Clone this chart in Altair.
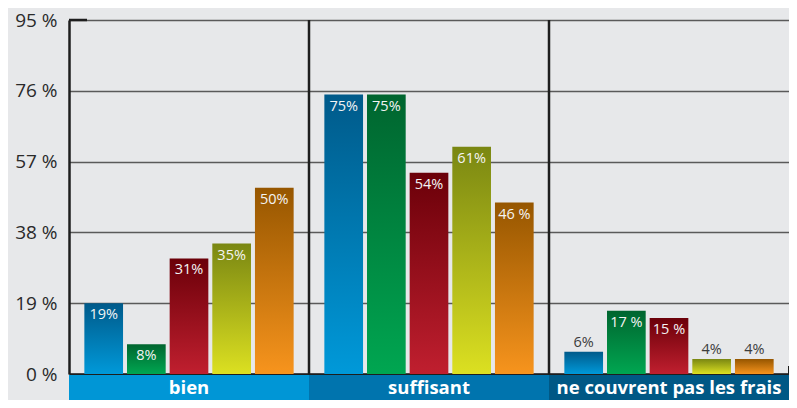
import altair as alt
import pandas as pd

groups = ["bien", "suffisant", "ne couvrent pas les frais"]
series = ["s1", "s2", "s3", "s4", "s5"]

vals_s1 = [19, 75, 6]
vals_s2 = [8, 75, 17]
vals_s3 = [31, 54, 15]
vals_s4 = [35, 61, 4]
vals_s5 = [50, 46, 4]

labs_s1 = ["19%", "75%", "6%"]
labs_s2 = ["8%", "75%", "17 %"]
labs_s3 = ["31%", "54%", "15 %"]
labs_s4 = ["35%", "61%", "4%"]
labs_s5 = ["50%", "46 %", "4%"]

tick_values = [0, 19, 38, 57, 76, 95]

top_colors = ["#005A8A", "#00652F", "#6B0009", "#7A8712", "#965600"]
bottom_colors = ["#0099D9", "#00A651", "#C01F2F", "#DCE021", "#F7941D"]
box_colors = ["#0096D6", "#0074AE", "#005885"]

all_vals = [vals_s1, vals_s2, vals_s3, vals_s4, vals_s5]
all_labs = [labs_s1, labs_s2, labs_s3, labs_s4, labs_s5]

rows = []
for s, vals, labs in zip(series, all_vals, all_labs):
    for g, v, l in zip(groups, vals, labs):
        rows.append({"group": g, "series": s, "value": v, "label": l})
df = pd.DataFrame(rows)

box_df = pd.DataFrame({"group": groups, "fill": box_colors})
div_df = pd.DataFrame({"group": groups[1:]})
dummy = pd.DataFrame({"a": [0]})

W, H = 720, 354
FONT = "Open Sans"

x_scale = alt.Scale(domain=groups, paddingInner=0, paddingOuter=0)
x_axis = alt.Axis(labels=False, ticks=False, title=None, domain=True,
                  domainColor="#1e1e1e", domainWidth=2.5, grid=False)
x_enc = alt.X("group:N", sort=groups, scale=x_scale, axis=x_axis)
xo = alt.XOffset("series:N", sort=series,
                 scale=alt.Scale(domain=series, paddingInner=0.093, paddingOuter=0.36))
y_enc = alt.Y("value:Q", scale=alt.Scale(domain=[0, 95], nice=False, zero=True),
              axis=alt.Axis(values=tick_values, labelExpr="datum.value + ' %'",
                            title=None, ticks=False, domainColor="#1e1e1e",
                            domainWidth=2.5, gridColor="#5a5a5a", gridWidth=1.3,
                            labelFont=FONT, labelFontSize=19, labelColor="#2a2a2a",
                            labelPadding=12, labelBound=False, labelFlush=False))

base = alt.Chart(df)
layers = []
for s, top, bot in zip(series, top_colors, bottom_colors):
    grad = alt.Gradient(
        gradient="linear", x1=0, x2=0, y1=0, y2=1,
        stops=[alt.GradientStop(color=top, offset=0),
               alt.GradientStop(color=bot, offset=1)])
    layers.append(
        base.transform_filter(alt.datum.series == s)
        .mark_bar(color=grad)
        .encode(x=x_enc, xOffset=xo, y=y_enc)
    )

inside = base.transform_filter("datum.value >= 7").mark_text(
    baseline="top", dy=5, color="#f4f4f4", font=FONT, fontSize=14.5, fontWeight=500
).encode(x=x_enc, xOffset=xo, y=y_enc, text="label:N")

outside = base.transform_filter("datum.value < 7").mark_text(
    baseline="bottom", dy=-2, color="#3c3c3c", font=FONT, fontSize=14.5, fontWeight=500
).encode(x=x_enc, xOffset=xo, y=y_enc, text="label:N")

boxes = alt.Chart(box_df).mark_rect().encode(
    x=x_enc, y=alt.value(H + 1), y2=alt.value(H + 26),
    fill=alt.Fill("fill:N", scale=None))

box_text = alt.Chart(box_df).mark_text(
    color="white", font=FONT, fontSize=18.5, fontWeight="bold", baseline="middle"
).encode(x=x_enc, y=alt.value(H + 14), text="group:N")

dividers = alt.Chart(div_df).mark_rule(color="#1e1e1e", strokeWidth=2.5).encode(
    x=alt.X("group:N", sort=groups, scale=x_scale, axis=x_axis, bandPosition=0),
    y=alt.value(0), y2=alt.value(H))

top_tick = alt.Chart(dummy).mark_rule(color="#1e1e1e", strokeWidth=2.5).encode(
    x=alt.value(0), x2=alt.value(18), y=alt.value(0))
end_tick = alt.Chart(dummy).mark_rule(color="#1e1e1e", strokeWidth=2).encode(
    x=alt.value(W), y=alt.value(H - 8), y2=alt.value(H))

chart = alt.layer(
    *layers, inside, outside, dividers, top_tick, end_tick, boxes, box_text
).properties(
    width=W, height=H,
    autosize=alt.AutoSizeParams(type="none"),
    padding={"left": 61, "top": 12, "right": 0, "bottom": 26},
    background="#E7E8EA",
).configure_view(stroke=None)

chart.save("out.html", embed_options={"renderer": "svg", "actions": False})
